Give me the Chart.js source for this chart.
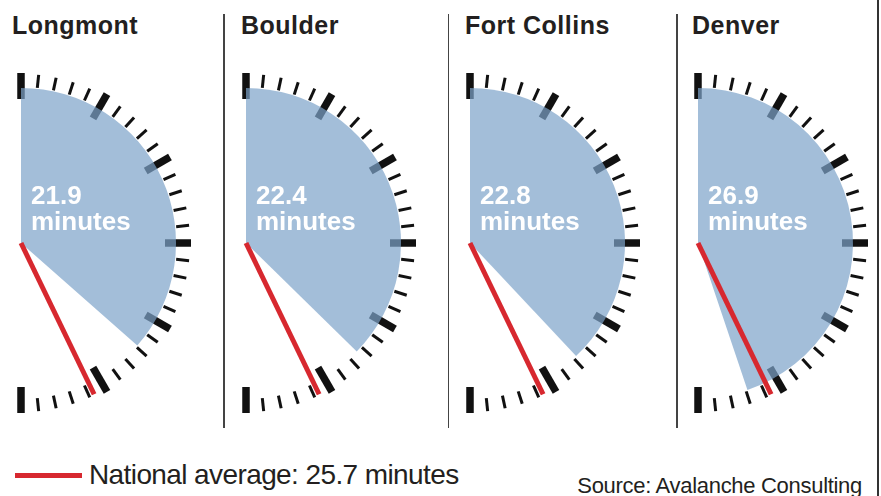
<!DOCTYPE html>
<html>
<head>
<meta charset="utf-8">
<script src="https://cdn.jsdelivr.net/npm/chart.js@4"></script>
<style>
  html, body { margin: 0; padding: 0; background: #fff; }
  #wrap { position: relative; width: 881px; height: 496px; overflow: hidden; font-family: "Liberation Sans", Arial, sans-serif; }
  .title { position: absolute; top: 12.8px; font-weight: bold; font-size: 25px; line-height: 25px; letter-spacing: 0.5px; color: #231f20; white-space: nowrap; }
  .sep { position: absolute; top: 14px; height: 414px; width: 1.5px; background: #444; }
  canvas { position: absolute; }
  #legline { position: absolute; left: 15px; top: 473px; width: 67px; height: 5px; background: #d7282f; }
  #legtext { position: absolute; left: 89px; top: 461.3px; font-size: 28px; line-height: 28px; letter-spacing: -0.6px; color: #231f20; white-space: nowrap; }
  #source { position: absolute; right: 19px; top: 475.4px; font-size: 22px; line-height: 22px; letter-spacing: -0.3px; color: #231f20; white-space: nowrap; }
  #rborder { position: absolute; left: 877px; top: 0; width: 2px; height: 496px; background: #333; }
</style>
</head>
<body>
<div id="wrap"></div>
<script>
// ---- data ----
const cities = ['Longmont', 'Boulder', 'Fort Collins', 'Denver'];
const commuteMinutes = [21.9, 22.4, 22.8, 26.9];
const nationalAverage = 25.7;
const dialMax = 30;
const majorStep = 5;
const minorStep = 1;
const valueUnit = 'minutes';
const legendLabel = 'National average: 25.7 minutes';
const sourceLabel = 'Source: Avalanche Consulting';

// ---- layout / style ----
const centersX = [20.5, 245.5, 470, 697.5];
const titleX = [12, 241, 465, 692];
const sepX = [223, 447.5, 676];
const centerY = 243;
const dialR = 155;
const canvasW = 200, canvasH = 380, canvasTop = 60, canvasOffX = 20;
const wedgeColor = 'rgba(126,164,202,0.71)';
const needleColor = '#d7282f';
const tickColor = '#111';

const wrap = document.getElementById('wrap');

sepX.forEach(x => {
  const d = document.createElement('div');
  d.className = 'sep'; d.style.left = x + 'px';
  wrap.appendChild(d);
});
const rb = document.createElement('div'); rb.id = 'rborder'; wrap.appendChild(rb);

cities.forEach((c, i) => {
  const t = document.createElement('div');
  t.className = 'title'; t.style.left = titleX[i] + 'px'; t.textContent = c;
  wrap.appendChild(t);
});

const ll = document.createElement('div'); ll.id = 'legline'; wrap.appendChild(ll);
const lt = document.createElement('div'); lt.id = 'legtext'; lt.textContent = legendLabel; wrap.appendChild(lt);
const sr = document.createElement('div'); sr.id = 'source'; sr.textContent = sourceLabel; wrap.appendChild(sr);

function angleFor(chart, v) {
  const meta = chart.getDatasetMeta(0);
  const a0 = meta.data[0].startAngle;
  const a1 = meta.data[meta.data.length - 1].endAngle;
  return a0 + (a1 - a0) * v / dialMax;
}

const dialPlugin = {
  id: 'dial',
  beforeDatasetsDraw(chart) {
    const meta = chart.getDatasetMeta(0);
    const arc = meta.data[0];
    const cx = arc.x, cy = arc.y, R = arc.outerRadius;
    const ctx = chart.ctx;
    ctx.save();
    ctx.strokeStyle = tickColor;
    ctx.lineCap = 'butt';
    for (let m = 0; m <= dialMax; m += minorStep) {
      const a = angleFor(chart, m);
      let r0, r1, w;
      if (m === 0 || m === dialMax || m === dialMax / 2) { r0 = R - 11; r1 = R + 15; w = 7.5; }
      else if (m % majorStep === 0) { r0 = R - 11; r1 = R + 17; w = 7.5; }
      else { r0 = R + 1; r1 = R + 14; w = 3; }
      ctx.lineWidth = w;
      ctx.beginPath();
      ctx.moveTo(cx + r0 * Math.cos(a), cy + r0 * Math.sin(a));
      ctx.lineTo(cx + r1 * Math.cos(a), cy + r1 * Math.sin(a));
      ctx.stroke();
    }
    ctx.restore();
  },
  afterDatasetsDraw(chart) {
    const meta = chart.getDatasetMeta(0);
    const arc = meta.data[0];
    const cx = arc.x, cy = arc.y, R = arc.outerRadius;
    const ctx = chart.ctx;
    ctx.save();
    const a = angleFor(chart, nationalAverage);
    ctx.strokeStyle = needleColor;
    ctx.lineWidth = 5;
    ctx.lineCap = 'butt';
    ctx.beginPath();
    ctx.moveTo(cx, cy);
    ctx.lineTo(cx + (R + 13) * Math.cos(a), cy + (R + 13) * Math.sin(a));
    ctx.stroke();
    const v = chart.data.datasets[0].data[0];
    ctx.fillStyle = '#fff';
    ctx.font = 'bold 26px "Liberation Sans", Arial, sans-serif';
    ctx.textBaseline = 'alphabetic';
    ctx.textAlign = 'left';
    ctx.fillText(v.toFixed(1), cx + 10, cy - 39);
    ctx.fillText(valueUnit, cx + 10, cy - 13);
    ctx.restore();
  }
};

cities.forEach((c, i) => {
  const cv = document.createElement('canvas');
  cv.width = canvasW; cv.height = canvasH;
  const left = centersX[i] - canvasOffX;
  cv.style.left = left + 'px'; cv.style.top = canvasTop + 'px';
  cv.style.width = canvasW + 'px'; cv.style.height = canvasH + 'px';
  wrap.appendChild(cv);
  const cxr = canvasOffX, cyr = centerY - canvasTop;
  new Chart(cv, {
    type: 'pie',
    data: {
      labels: [c, 'rest'],
      datasets: [{
        data: [commuteMinutes[i], dialMax - commuteMinutes[i]],
        backgroundColor: [wedgeColor, 'rgba(0,0,0,0)'],
        borderWidth: 0,
        offset: 0,
        hoverOffset: 0
      }]
    },
    options: {
      responsive: false,
      animation: false,
      events: [],
      rotation: 0,
      circumference: 180,
      layout: {
        padding: {
          left: cxr,
          top: cyr - dialR,
          right: canvasW - (cxr + dialR),
          bottom: canvasH - (cyr + dialR)
        }
      },
      plugins: { legend: { display: false }, tooltip: { enabled: false } }
    },
    plugins: [dialPlugin]
  });
});
</script>
</body>
</html>
